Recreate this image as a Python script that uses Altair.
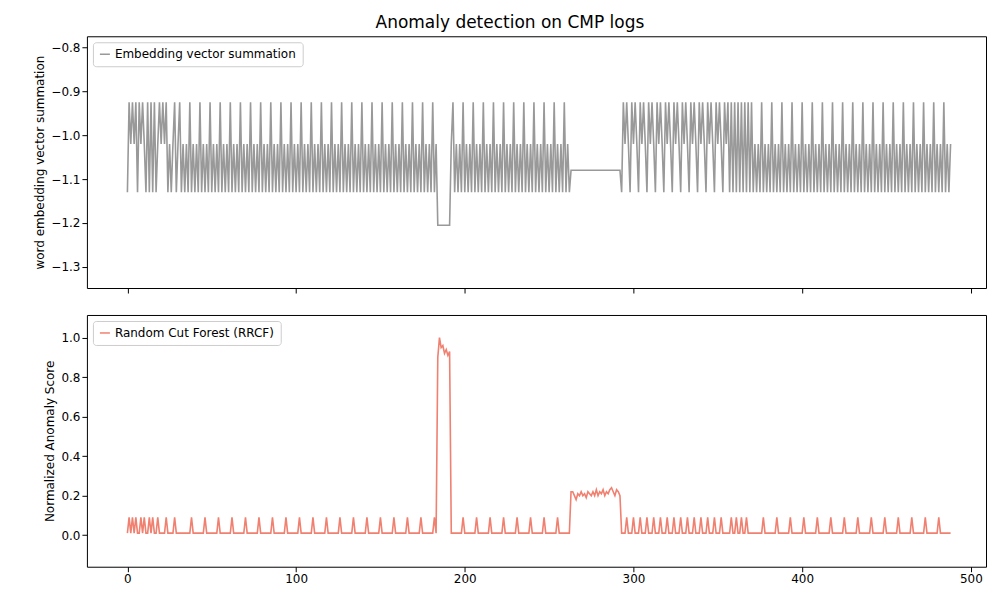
import altair as alt
import pandas as pd

# niveles de la suma de vectores
niveles = {"H": -0.925, "M": -1.02, "L": -1.13, "A": -1.205, "F": -1.08}

seg1 = "LHMHMHLHMHMLHLHLHLMHMHMHLMLMHLM"
seg2 = ("HLMLMLHLMLMLHLMLMLHLMLMLHLMLML"
        "HLMLMLHLMLMLHLMLMLHLMLMLHLMLML"
        "HLMLMLHLMLMLHLMLMLHLMLMLHLMLML"
        "HLMLMLHLMLMLHLMLMLHLMLMLHLMLML"
        "HLMLMLHLMLMLHLMLMLHLMLMLHLMLML"
        "HLM")
seg3 = "AAAAAAAA"
seg4 = ("MHLMLMLHLMLMLHLMLMLHLMLMLHLMLML"
        "HLMLMLHLMLMLHLMLMLHLMLMLHLMLML"
        "HLMLMLHLML")
seg5 = "FFFFFFFFFFFFFFFFFFFFFFFFFFFFFF"
seg6 = ("LHMHMLHMHMLHMHMLHMHMLHMHMLHMHMLH"
        "MHMLHMHMLHMHMLHMHMLHMHMLHMHMLHM")
seg7 = "HLHLHLHLHLHLHL"
seg8 = ("HLMLMLHLMLMLHLMLMLHLMLMLHLMLML"
        "HLMLMLHLMLMLHLMLMLHLMLMLHLMLML"
        "HLMLMLHLMLMLHLMLMLHLMLMLHLMLML"
        "HLMLMLHLMLMLHLMLMLHLMLMLHLMLM")
serie = seg1 + seg2 + seg3 + seg4 + seg5 + seg6 + seg7 + seg8

# puntaje RRCF
p1 = "0101010010100101001000010000100"
p2 = ("0000000100000001000000010000000100000001"
      "0000000100000001000000010000000100000001"
      "0000000100000001000000010000000100000001"
      "00000001000000010000000100000001" "0")
p3 = [0.90, 1.00, 0.95, 0.96, 0.92, 0.94, 0.91, 0.93]
p4 = ("0000000100000001000000010000000100000001"
      "000000010000000100000001" "0000000")
p5 = [0.22, 0.22, 0.20, 0.18, 0.21, 0.20, 0.22, 0.20, 0.21, 0.19,
      0.22, 0.21, 0.20, 0.22, 0.20, 0.23, 0.20, 0.22, 0.21, 0.23,
      0.20, 0.22, 0.21, 0.23, 0.24, 0.22, 0.20, 0.23, 0.22, 0.20]
p6 = ("0001000100010001000100010001000100010001"
      "00010001000100010001000" )
p7 = "00100100100100"
p8 = ("0000000100000001000000010000000100000001"
      "0000000100000001000000010000000100000001"
      "00000001000000010000000100000001" "0000000")

def puntos(s):
    return [0.01 if c == "0" else 0.09 for c in s]

puntaje = puntos(p1) + puntos(p2) + p3 + puntos(p4) + p5 + puntos(p6) + puntos(p7) + puntos(p8)

df1 = pd.DataFrame({"x": range(len(serie)), "y": [niveles[c] for c in serie],
                    "s": "Embedding vector summation"})
df2 = pd.DataFrame({"x": range(len(puntaje)), "y": puntaje,
                    "s": "Random Cut Forest (RRCF)"})

xs = alt.Scale(domain=[-24, 509], nice=False, zero=False)

def leyenda():
    return alt.Legend(title=None, orient="top-left", symbolType="stroke", labelLimit=400,
                      strokeColor="#cccccc", padding=6, fillColor="white", offset=6,
                      labelFontSize=12, cornerRadius=3)

arriba = alt.Chart(df1).mark_line(strokeWidth=1.6).encode(
    x=alt.X("x:Q", scale=xs, axis=alt.Axis(values=[0, 100, 200, 300, 400, 500], labels=False, title=None)),
    y=alt.Y("y:Q", scale=alt.Scale(domain=[-1.348, -0.775], nice=False, zero=False),
            axis=alt.Axis(values=[-1.3, -1.2, -1.1, -1.0, -0.9, -0.8], format=".1f",
                          title="word embedding vector summation")),
    color=alt.Color("s:N", scale=alt.Scale(range=["#999999"]), legend=leyenda())
).properties(width=900, height=252)

abajo = alt.Chart(df2).mark_line(strokeWidth=1.6).encode(
    x=alt.X("x:Q", scale=xs, axis=alt.Axis(values=[0, 100, 200, 300, 400, 500], title=None)),
    y=alt.Y("y:Q", scale=alt.Scale(domain=[-0.16, 1.115], nice=False, zero=False),
            axis=alt.Axis(values=[0, 0.2, 0.4, 0.6, 0.8, 1.0], format=".1f",
                          title="Normalized Anomaly Score")),
    color=alt.Color("s:N", scale=alt.Scale(range=["#f08070"]), legend=leyenda())
).properties(width=900, height=252)

chart = alt.vconcat(arriba, abajo, spacing=20).resolve_scale(color="independent").properties(
    title=alt.Title("Anomaly detection on CMP logs", fontSize=17, fontWeight="normal", anchor="middle"),
    padding={"left": 25, "top": 5, "right": 5, "bottom": 5}
).configure_view(stroke="black").configure_axis(
    grid=False, domain=False, tickColor="black", labelColor="black", labelFontSize=12,
    titleFontSize=12, titleFontWeight="normal", labelFont="DejaVu Sans", titleFont="DejaVu Sans"
).configure_legend(labelFont="DejaVu Sans").configure_title(font="DejaVu Sans")

chart.save("out.html", embed_options={"renderer": "svg", "actions": False})
